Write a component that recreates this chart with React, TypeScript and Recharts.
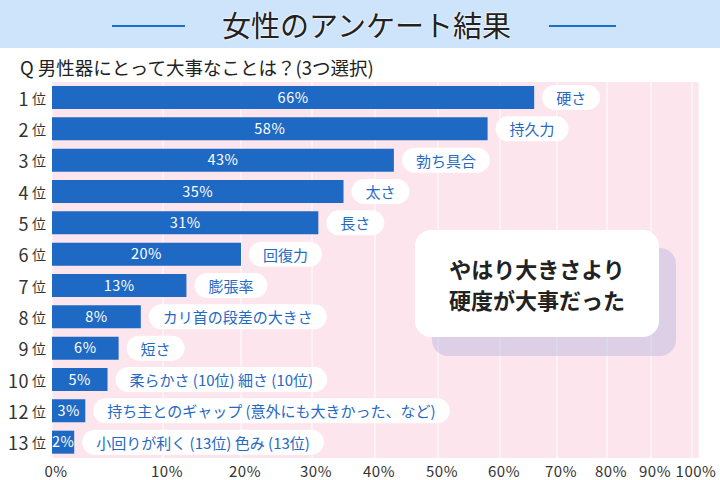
import React from 'react';
import { BarChart, Bar, XAxis, YAxis, CartesianGrid, LabelList } from 'recharts';

const ranks = ['1位', '2位', '3位', '4位', '5位', '6位', '7位', '8位', '9位', '10位', '12位', '13位'];
const values = [66, 58, 43, 35, 31, 20, 13, 8, 6, 5, 3, 2];
const items = [
  '硬さ',
  '持久力',
  '勃ち具合',
  '太さ',
  '長さ',
  '回復力',
  '膨張率',
  'カリ首の段差の大きさ',
  '短さ',
  '柔らかさ (10位) 細さ (10位)',
  '持ち主とのギャップ (意外にも大きかった、など)',
  '小回りが利く (13位) 色み (13位)',
];
const xTicks = [0, 10, 20, 30, 40, 50, 60, 70, 80, 90, 100];

const title = '女性のアンケート結果';
const question = 'Q 男性器にとって大事なことは？(3つ選択)';
const calloutLines = ['やはり大きさより', '硬度が大事だった'];

const data = ranks.map((r, i) => ({ rank: r, value: values[i], item: items[i] }));

const FONT = "'Noto Sans CJK JP', 'Noto Sans', sans-serif";
const BAR_COLOR = '#1e69c3';
const PILL_TEXT = '#2569c4';
const PINK = '#fde5ed';

// Non-linear (hand-drawn) axis of the infographic: piecewise-linear scale,
// knots expressed as fractions of the axis pixel range.
const KNOT_FRACTIONS = [0, 0.1716, 0.2921, 0.4019, 0.4992, 0.5966, 0.6924, 0.7805, 0.8578, 0.9258, 0.9892];

function makeWarpScale(): any {
  let dom: any[] = [0, 100];
  let rng: number[] = [0, 1];
  const scale: any = (input: any) => {
    const v = Number(input);
    let f: number;
    if (v <= xTicks[0]) {
      f = KNOT_FRACTIONS[0] + ((v - xTicks[0]) / (xTicks[1] - xTicks[0])) * (KNOT_FRACTIONS[1] - KNOT_FRACTIONS[0]);
    } else {
      let k = xTicks.length - 2;
      for (let i = 0; i < xTicks.length - 1; i++) {
        if (v <= xTicks[i + 1]) {
          k = i;
          break;
        }
      }
      const t = (v - xTicks[k]) / (xTicks[k + 1] - xTicks[k]);
      f = KNOT_FRACTIONS[k] + t * (KNOT_FRACTIONS[k + 1] - KNOT_FRACTIONS[k]);
    }
    return rng[0] + f * (rng[1] - rng[0]);
  };
  scale.domain = (d?: any[]) => {
    if (d === undefined) return dom.slice();
    dom = d.slice();
    return scale;
  };
  scale.range = (r?: number[]) => {
    if (r === undefined) return rng.slice();
    rng = r.slice();
    return scale;
  };
  scale.copy = () => makeWarpScale().domain(dom).range(rng);
  scale.ticks = () => xTicks.slice();
  scale.tickFormat = () => (v: any) => String(v);
  scale.clamp = () => scale;
  scale.nice = () => scale;
  return scale;
}
const warpScale = makeWarpScale();

let measureCtx: CanvasRenderingContext2D | null = null;
function measureText(text: string, font: string): number {
  if (typeof document === 'undefined') return text.length * 15;
  if (!measureCtx) measureCtx = document.createElement('canvas').getContext('2d');
  if (!measureCtx) return text.length * 15;
  measureCtx.font = font;
  return measureCtx.measureText(text).width;
}

const RankTick = (props: any) => {
  const { x, y, payload } = props;
  const s = String(payload.value);
  const num = s.replace('位', '');
  return (
    <text x={x + 2} y={y} textAnchor="end" dominantBaseline="central" fill="#333" fontFamily={FONT}>
      <tspan fontSize={18} letterSpacing={0.5}>{num}</tspan>
      <tspan fontSize={14} dx={3}>位</tspan>
    </text>
  );
};

const PercentTick = (props: any) => {
  const { x, y, payload } = props;
  return (
    <text
      x={x + 4}
      y={y}
      dy="0.71em"
      textAnchor="middle"
      fill="#333"
      fontSize={15}
      letterSpacing={0.5}
      fontFamily={FONT}
    >
      {`${payload.value}%`}
    </text>
  );
};

const PillLabel = (props: any) => {
  const vb = props.viewBox || {};
  const x = props.x ?? vb.x;
  const y = props.y ?? vb.y;
  const width = props.width ?? vb.width;
  const height = props.height ?? vb.height;
  const text = String(props.value);
  const tw = measureText(text, `15px ${FONT}`);
  const padX = 14;
  const h = 25;
  const rx0 = x + width + 8;
  const cy = y + height / 2;
  return (
    <g>
      <rect x={rx0} y={cy - h / 2} width={tw + padX * 2} height={h} rx={h / 2} ry={h / 2} fill="#ffffff" />
      <text x={rx0 + padX} y={cy} dominantBaseline="central" fill={PILL_TEXT} fontSize={15} fontFamily={FONT}>
        {text}
      </text>
    </g>
  );
};

export default function App() {
  return (
    <div
      style={{
        position: 'absolute',
        left: 0,
        top: 0,
        width: 720,
        height: 480,
        background: '#ffffff',
        fontFamily: FONT,
        overflow: 'hidden',
      }}
    >
      <div
        style={{
          position: 'absolute',
          left: 0,
          top: 0,
          width: 720,
          height: 48,
          background: '#cee4fa',
        }}
      />
      <div style={{ position: 'absolute', left: 112, top: 25, width: 73, height: 2, background: '#1b6fcc' }} />
      <div style={{ position: 'absolute', left: 549, top: 25, width: 67, height: 2, background: '#1b6fcc' }} />
      <div
        style={{
          position: 'absolute',
          left: 0,
          top: 0,
          width: 733,
          height: 48,
          lineHeight: '48px',
          textAlign: 'center',
          fontSize: 29,
          color: '#222',
          textShadow: '0 0 2px #fff, 0 0 2px #fff',
        }}
      >
        {title}
      </div>
      <div
        style={{
          position: 'absolute',
          left: 20,
          top: 55,
          lineHeight: '24px',
          fontSize: 18.5,
          color: '#222',
          whiteSpace: 'nowrap',
        }}
      >
        {question}
      </div>
      <div style={{ position: 'absolute', left: 0, top: 0 }}>
        <BarChart
          width={720}
          height={480}
          data={data}
          layout="vertical"
          margin={{ top: 82, right: 21, bottom: 0, left: 0 }}
          barSize={23}
        >
          <CartesianGrid horizontal={false} vertical={true} stroke="#ffffff" strokeWidth={1} fill={PINK} />
          <XAxis
            type="number"
            domain={[0, 100]}
            ticks={xTicks}
            scale={warpScale}
            height={22}
            axisLine={false}
            tickLine={false}
            tick={<PercentTick />}
            interval={0}
          />
          <YAxis
            type="category"
            dataKey="rank"
            width={52}
            axisLine={false}
            tickLine={false}
            tick={<RankTick />}
            interval={0}
          />
          <Bar dataKey="value" fill={BAR_COLOR} isAnimationActive={false}>
            <LabelList
              dataKey="value"
              position="center"
              fill="#ffffff"
              fontSize={14.5}
              fontWeight={400}
              letterSpacing={0.5}
              fontFamily={FONT}
              formatter={(v: any) => `${v}%`}
            />
            <LabelList dataKey="item" content={<PillLabel />} />
          </Bar>
        </BarChart>
      </div>
      <div
        style={{
          position: 'absolute',
          left: 432,
          top: 248,
          width: 244,
          height: 108,
          borderRadius: 16,
          background: 'rgba(160,165,215,0.35)',
        }}
      />
      <div
        style={{
          position: 'absolute',
          left: 415,
          top: 230,
          width: 244,
          height: 107,
          borderRadius: 16,
          background: '#ffffff',
          display: 'flex',
          flexDirection: 'column',
          alignItems: 'center',
          justifyContent: 'center',
          fontSize: 22,
          fontWeight: 700,
          lineHeight: '31px',
          color: '#222',
        }}
      >
        {calloutLines.map((l) => (
          <div key={l}>{l}</div>
        ))}
      </div>
    </div>
  );
}
